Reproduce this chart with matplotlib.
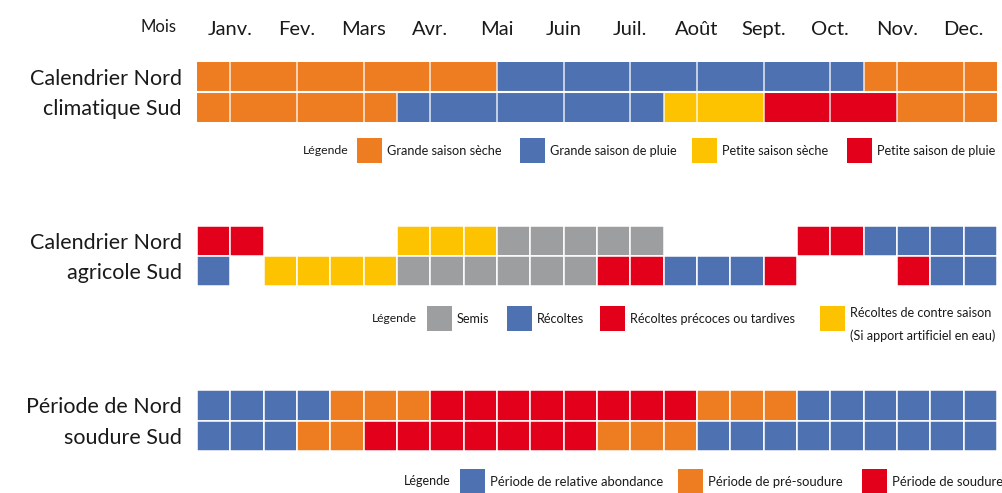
import matplotlib.pyplot as plt
from matplotlib.patches import Rectangle

plt.rcParams['font.family'] = ['Lato', 'DejaVu Sans']

# couleurs
couleurs = {
    'O': '#EE7D22',
    'B': '#4E71B1',
    'Y': '#FDC300',
    'R': '#E2001A',
    'G': '#9D9E9F',
}

mois = ['Janv.', 'Fev.', 'Mars', 'Avr.', 'Mai', 'Juin', 'Juil.', 'Août',
        'Sept.', 'Oct.', 'Nov.', 'Dec.']

# une lettre par demi-mois, '-' = vide
clim_nord = list('OOOOOOOOOBBBBBBBBBBBOOOO')
clim_sud = list('OOOOOOBBBBBBBBYYYRRRROOO')
agri_nord = list('RR----YYYGGGGG----RRBBBB')
agri_sud = list('B-YYYYGGGGGGRRBBBR---RBB')
soud_nord = list('BBBBOOORRRRRRRROOOBBBBBB')
soud_sud = list('BBBOORRRRRRROOOBBBBBBBBB')

labels_clim = ['Calendrier Nord', 'climatique Sud']
labels_agri = ['Calendrier Nord', 'agricole Sud']
labels_soud = ['Période de Nord', 'soudure Sud']

leg_clim = [('O', 'Grande saison sèche'), ('B', 'Grande saison de pluie'),
            ('Y', 'Petite saison sèche'), ('R', 'Petite saison de pluie')]
leg_agri = [('G', 'Semis'), ('B', 'Récoltes'), ('R', 'Récoltes précoces ou tardives'),
            ('Y', 'Récoltes de contre saison\n(Si apport artificiel en eau)')]
leg_soud = [('B', 'Période de relative abondance'), ('O', 'Période de pré-soudure'),
            ('R', 'Période de soudure')]

W, H = 1003, 493
fig = plt.figure(figsize=(W / 100, H / 100), dpi=100)

# calque en pixels pour les légendes
ov = fig.add_axes([0, 0, 1, 1])
ov.set_xlim(0, W)
ov.set_ylim(H, 0)
ov.axis('off')


def grille(top, bottom, rows, labels, bords_pleins=True):
    ax = fig.add_axes([197 / W, 1 - bottom / H, 800 / W, (bottom - top) / H])
    for r, row in enumerate(rows):
        for i, c in enumerate(row):
            if c == '-':
                continue
            ax.barh(r + 0.5, 1, left=i, height=1, color=couleurs[c],
                    edgecolor='white' if bords_pleins else couleurs[c],
                    linewidth=1.1 if bords_pleins else 0)
        if not bords_pleins:
            # traits blancs au milieu des mois et aux changements
            for k in range(1, len(row)):
                if k % 2 == 1 or row[k] != row[k - 1]:
                    ax.plot([k, k], [r, r + 1], color='white', lw=1.1, alpha=0.85)
    if not bords_pleins:
        ax.axhline(1, color='white', lw=1.5)
    ax.set_xlim(0, 24)
    ax.set_ylim(2, 0)
    for s in ax.spines.values():
        s.set_visible(False)
    ax.set_yticks([0.5, 1.5])
    ax.set_yticklabels(labels, fontsize=15.5, color='#1a1a1a')
    ax.tick_params(axis='y', length=0, pad=11)
    ax.set_xticks([])
    return ax


ax1 = grille(62, 122, [clim_nord, clim_sud], labels_clim, bords_pleins=False)
ax2 = grille(226, 286, [agri_nord, agri_sud], labels_agri)
ax3 = grille(390, 451, [soud_nord, soud_sud], labels_soud)

# mois en haut
ax1.xaxis.tick_top()
ax1.set_xticks([2 * m + 1 for m in range(12)])
ax1.set_xticklabels(mois, fontsize=14.5, color='#1a1a1a')
ax1.tick_params(axis='x', length=0, pad=17)
ov.text(177, 27, 'Mois', fontsize=12, ha='right', va='center', color='#1a1a1a')


def legende(x_leg, y_leg, items, xs_carre, taille=9.1):
    ov.text(x_leg, y_leg, 'Légende', fontsize=taille - 0.4, ha='left', va='center',
            color='#1a1a1a')
    for (c, txt), xc in zip(items, xs_carre):
        ov.add_patch(Rectangle((xc, y_leg - 12.5), 25, 25, color=couleurs[c], lw=0))
        lines = txt.split('\n')
        if len(lines) == 1:
            ov.text(xc + 30, y_leg + 1, txt, fontsize=taille, ha='left', va='center',
                    color='#1a1a1a')
        else:
            ov.text(xc + 30, y_leg - 5, lines[0], fontsize=taille, ha='left',
                    va='center', color='#1a1a1a')
            ov.text(xc + 30, y_leg + 18, lines[1], fontsize=taille, ha='left',
                    va='center', color='#1a1a1a')


legende(303, 150, leg_clim, [357, 520, 692, 847], taille=9.2)
legende(372, 318, leg_agri, [427, 507, 600, 820])
legende(404, 481, leg_soud, [460, 678, 862], taille=9.4)

fig.savefig('out.png', dpi=100)
